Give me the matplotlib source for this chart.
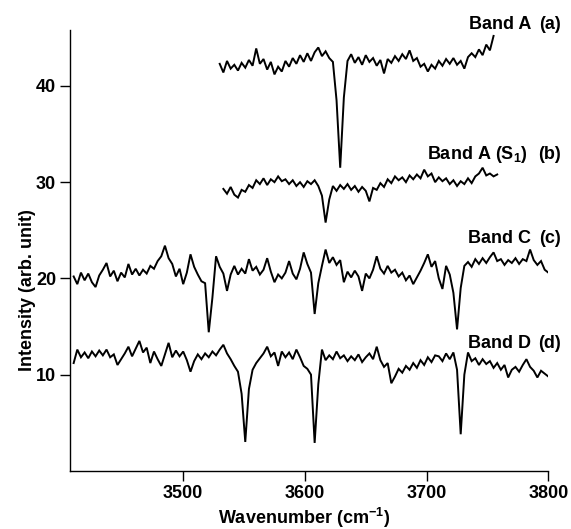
import numpy as np
import matplotlib
matplotlib.use("Agg")
import matplotlib.pyplot as plt

plt.rcParams["font.family"] = ["Liberation Sans", "DejaVu Sans"]
plt.rcParams["font.weight"] = "bold"
plt.rcParams["mathtext.fontset"] = "custom"
plt.rcParams["mathtext.rm"] = "Liberation Sans:bold"
plt.rcParams["mathtext.bf"] = "Liberation Sans:bold"
plt.rcParams["mathtext.default"] = "bf"

STEP = 3.0
A_START = 3530
A_Y = [42.3, 41.4, 42.6, 41.8, 42.2, 41.6, 42.4, 41.9, 42.7, 42.1,
       43.9, 42.3, 42.8, 41.7, 42.5, 41.2, 42.0, 41.5, 42.6, 42.0,
       42.9, 42.3, 43.2, 42.5, 43.4, 42.6, 43.5, 44.0, 43.1, 43.6,
       42.9, 42.5, 38.5, 31.5, 38.8, 42.6, 43.3, 42.4, 43.0, 42.2,
       43.2, 42.5, 42.9, 42.1, 42.7, 41.3, 42.8, 42.4, 43.1, 42.6,
       43.3, 42.8, 43.7, 42.6, 42.9, 42.0, 42.3, 41.5, 42.2, 41.8,
       42.6, 42.1, 42.8, 42.3, 42.9, 42.2, 42.6, 41.8, 43.0, 43.4,
       43.0, 43.8, 43.2, 44.3, 43.7, 45.2]

B_START = 3533
B_Y = [29.3, 28.8, 29.5, 28.7, 28.4, 29.2, 29.0, 29.7, 29.4, 30.2,
       29.8, 30.4, 29.7, 30.3, 30.0, 30.6, 30.1, 30.3, 29.8, 30.2,
       29.6, 30.0, 29.5, 30.1, 29.8, 30.2, 29.6, 28.6, 25.8, 28.2,
       29.6, 29.1, 29.7, 29.3, 29.8, 29.2, 29.6, 29.0, 29.5, 29.1,
       28.0, 29.4, 29.2, 29.9, 29.5, 30.3, 29.9, 30.6, 30.2, 30.5,
       30.0, 30.7, 30.3, 30.8, 30.4, 31.3, 30.6, 30.9, 30.0, 30.5,
       30.1, 30.4, 29.8, 30.2, 29.6, 30.1, 29.8, 30.4, 29.9, 30.6,
       30.9, 31.5, 30.7, 30.9, 30.6, 30.8]

C_START = 3410
C_Y = [20.2, 19.4, 20.6, 19.8, 20.5, 19.6, 19.1, 20.3, 20.9, 21.6,
       20.2, 20.8, 19.7, 20.6, 20.1, 21.5, 20.4, 21.0, 20.3, 20.9,
       20.5, 21.3, 21.0, 21.8, 22.3, 23.4, 22.1, 21.5, 20.2, 21.0,
       19.4, 20.6, 22.5, 21.2, 20.4, 19.7, 19.5, 14.4, 18.0, 22.3,
       21.2, 20.5, 18.7, 20.4, 21.3, 20.4, 21.0, 20.5, 22.0, 20.8,
       21.2, 20.4, 20.9, 22.1, 20.7, 19.6, 20.4, 20.0, 20.6, 21.8,
       20.5, 19.9, 21.0, 22.7, 21.5, 20.6, 16.3, 19.5, 21.3, 23.0,
       21.6, 22.2, 21.4, 21.9, 19.6, 20.7, 20.1, 20.8, 20.2, 18.7,
       20.5, 20.0, 20.9, 22.3, 21.0, 20.5, 21.3, 20.6, 20.9, 20.2,
       20.6, 19.8, 20.3, 19.4, 20.1, 20.8, 21.6, 22.5, 21.2, 21.8,
       20.0, 18.9, 21.3, 20.4, 18.5, 14.7, 19.0, 21.3, 21.7, 21.2,
       22.0, 21.5, 22.1, 21.6, 22.2, 22.7, 21.8, 22.0, 21.4, 21.9,
       21.6, 22.1, 21.5, 22.0, 21.8, 23.0, 21.9, 21.4, 21.8, 20.9,
       20.6]

D_START = 3410
D_Y = [11.2, 12.6, 11.8, 12.3, 11.7, 12.4, 11.9, 12.5, 12.0, 12.6,
       11.8, 12.1, 11.0, 11.6, 12.2, 12.9, 11.9, 12.7, 13.5, 12.3,
       12.8, 11.2, 12.4, 11.6, 10.9, 12.1, 13.3, 11.8, 12.5, 11.9,
       12.4, 11.5, 10.3, 11.4, 12.1, 11.6, 12.2, 11.8, 12.4, 12.0,
       12.6, 13.1, 12.2, 11.6, 10.9, 10.3, 8.0, 3.0, 8.5, 10.5,
       11.2, 11.7, 12.2, 12.9, 11.9, 12.3, 10.9, 12.4, 11.8, 12.3,
       11.6, 12.6, 11.8, 10.9, 10.6, 10.0, 2.9, 9.0, 12.6, 11.5,
       12.0, 11.6, 12.4, 11.7, 12.0, 11.4, 11.9, 11.5, 12.1, 11.3,
       11.8, 12.2, 11.6, 12.9, 11.5, 10.8, 11.2, 9.1, 9.8, 10.6,
       10.2, 10.9, 10.5, 11.2, 10.7, 11.5, 11.0, 11.8, 11.3, 12.0,
       11.9, 11.4, 12.2, 11.6, 12.3, 10.5, 3.8, 10.0, 12.3, 11.4,
       11.7, 11.0, 11.6, 11.1, 11.4, 10.7, 11.2, 10.5, 11.0, 9.7,
       10.5, 10.8, 10.3, 11.0, 11.6, 10.8, 10.4, 9.7, 10.4, 10.1,
       9.8]

BAND_NAMES = ["Band A", "Band A (S$_1$)", "Band C", "Band D"]
PANEL_TAGS = ["(a)", "(b)", "(c)", "(d)"]
LABEL_Y = [45.9, 32.4, 23.7, 12.8]
NAME_RIGHT = [3786, 3783, 3786, 3786]

X_TICKS = [3500, 3600, 3700, 3800]
Y_TICKS = [10, 20, 30, 40]


def spectrum(start, values):
    x = start + STEP * np.arange(len(values))
    return x, np.asarray(values)


fig = plt.figure(figsize=(5.71, 5.29), dpi=100)
ax = fig.add_axes([0.1226, 0.110, 0.8377, 0.833])

for start, values in [(A_START, A_Y), (B_START, B_Y), (C_START, C_Y), (D_START, D_Y)]:
    x, y = spectrum(start, values)
    ax.plot(x, y, color="black", linewidth=1.4, solid_joinstyle="miter")

for name, tag, ly, nx in zip(BAND_NAMES, PANEL_TAGS, LABEL_Y, NAME_RIGHT):
    ax.text(nx, ly, name, ha="right", va="baseline", fontsize=13, fontweight="bold", clip_on=False)
    ax.text(3810, ly, tag, ha="right", va="baseline", fontsize=13, fontweight="bold", clip_on=False)

ax.set_xlim(3407, 3800)
ax.set_ylim(0, 45.8)
ax.set_xticks(X_TICKS)
ax.set_yticks(Y_TICKS)
ax.spines["top"].set_visible(False)
ax.spines["right"].set_visible(False)
ax.spines["left"].set_linewidth(1.0)
ax.spines["bottom"].set_linewidth(1.0)
ax.tick_params(direction="out", length=7, width=1, labelsize=13, pad=3)
for lbl in ax.get_xticklabels() + ax.get_yticklabels():
    lbl.set_fontweight("bold")

ax.set_xlabel("Wavenumber (cm$^{-1}$)", fontsize=13, fontweight="bold")
ax.set_ylabel("Intensity (arb. unit)", fontsize=13, fontweight="bold")
ax.xaxis.label.set_va("baseline")
ax.xaxis.set_label_coords(0.49, -0.121)
ax.yaxis.set_label_coords(-0.071, 0.41)

fig.savefig("out.png", dpi=100)
